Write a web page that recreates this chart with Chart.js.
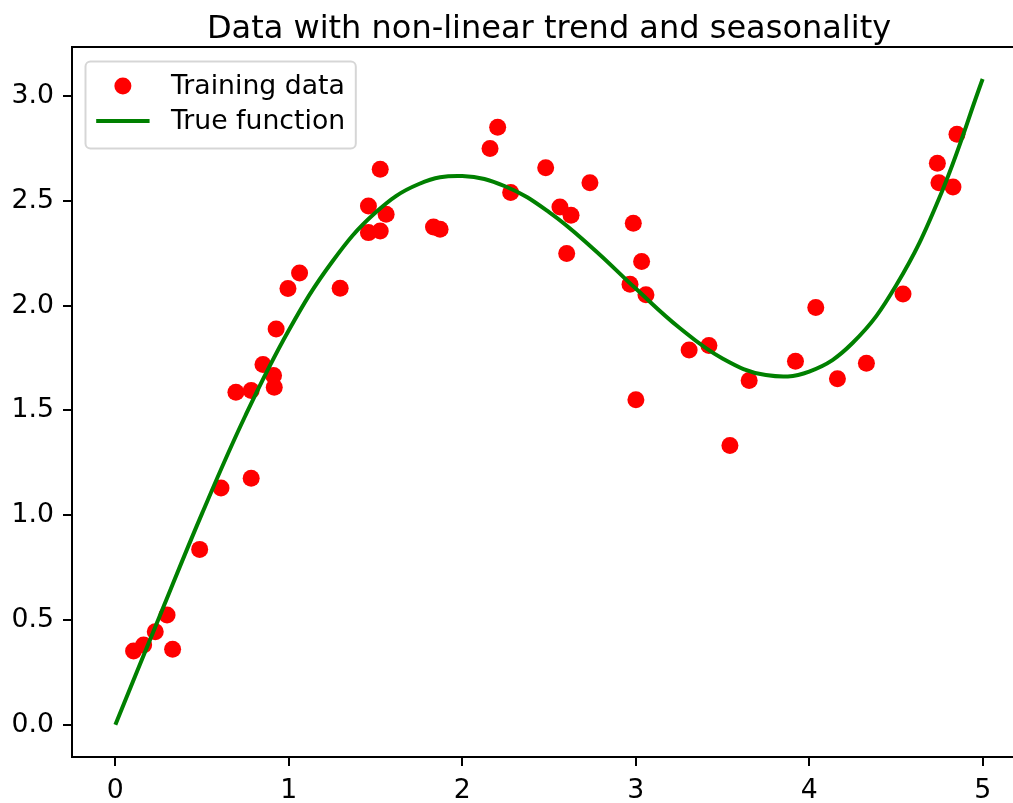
<!DOCTYPE html>
<html>
<head>
<script src="https://cdn.jsdelivr.net/npm/chart.js@4.4.0/dist/chart.umd.min.js"></script>
<style>
  html, body { margin: 0; padding: 0; overflow: hidden; background: #fff; }
</style>
</head>
<body>
<canvas id="trendChart" width="1098" height="803"></canvas>
<script>
// training points
const trainX = [0.105, 0.163, 0.230, 0.298, 0.330, 0.486, 0.609, 0.695, 0.783, 0.783,
                0.851, 0.912, 0.916, 0.927, 0.995, 1.062, 1.296, 1.459, 1.459, 1.527,
                1.527, 1.561, 1.834, 1.872, 2.160, 2.204, 2.279, 2.481, 2.563, 2.602,
                2.627, 2.736, 2.967, 2.986, 3.001, 3.034, 3.059, 3.308, 3.422, 3.543,
                3.654, 3.921, 4.038, 4.163, 4.330, 4.541, 4.739, 4.748, 4.829, 4.852];
const trainY = [0.352, 0.381, 0.444, 0.524, 0.360, 0.837, 1.130, 1.587, 1.595, 1.176,
                1.719, 1.667, 1.611, 1.889, 2.082, 2.156, 2.084, 2.476, 2.349, 2.651,
                2.357, 2.437, 2.376, 2.365, 2.751, 2.852, 2.540, 2.659, 2.471, 2.249,
                2.432, 2.587, 2.103, 2.394, 1.551, 2.211, 2.052, 1.789, 1.810, 1.333,
                1.643, 1.735, 1.992, 1.651, 1.725, 2.056, 2.680, 2.587, 2.567, 2.818];

// green curve, sampled along its path
const curveX = [0, 0.25, 0.5, 0.75, 1, 1.25, 1.5, 1.75, 2, 2.25, 2.5,
                2.75, 3, 3.25, 3.5, 3.75, 4, 4.25, 4.5, 4.75, 5];
const curveY = [0, 0.507, 1.009, 1.476, 1.883, 2.210, 2.445, 2.581, 2.619, 2.569, 2.447,
                2.276, 2.082, 1.896, 1.748, 1.669, 1.686, 1.822, 2.095, 2.514, 3.082];

const titleText = 'Data with non-linear trend and seasonality';
const legendOrder = ['Training data', 'True function'];

const FS = 26.7;
Chart.defaults.font.family = '"DejaVu Sans", sans-serif';
Chart.defaults.color = '#000';

// matplotlib-like frame + legend inside the axes
const framePlugin = {
    id: 'frame',
    afterDraw(chart) {
        const ctx = chart.ctx;
        const ca = chart.chartArea;
        ctx.save();
        ctx.strokeStyle = '#000';
        ctx.lineWidth = 2;
        ctx.strokeRect(ca.left, ca.top, ca.right - ca.left, ca.bottom - ca.top);

        // legend
        ctx.font = FS + 'px "DejaVu Sans"';
        const pad = 0.4 * FS, handleLen = 2 * FS, textPad = 0.8 * FS;
        const boxX = ca.left + 13.5, boxY = ca.top + 14.5;
        let textW = 0;
        legendOrder.forEach(l => { textW = Math.max(textW, ctx.measureText(l).width); });
        const boxW = pad + handleLen + textPad + textW + pad;
        const boxH = 87;
        ctx.beginPath();
        ctx.roundRect(boxX, boxY, boxW, boxH, 5);
        ctx.fillStyle = 'rgba(255,255,255,0.8)';
        ctx.fill();
        ctx.strokeStyle = 'rgba(204,204,204,0.8)';
        ctx.lineWidth = 2;
        ctx.stroke();

        ctx.textBaseline = 'middle';
        ctx.textAlign = 'left';
        legendOrder.forEach((label, i) => {
            const ds = chart.data.datasets.find(d => d.label === label);
            const cy = boxY + 24.5 + i * 35;
            const hx = boxX + pad;
            if (ds.showLine) {
                ctx.strokeStyle = ds.borderColor;
                ctx.lineWidth = ds.borderWidth;
                ctx.beginPath();
                ctx.moveTo(hx, cy);
                ctx.lineTo(hx + handleLen, cy);
                ctx.stroke();
            } else {
                ctx.fillStyle = ds.backgroundColor;
                ctx.beginPath();
                ctx.arc(hx + handleLen / 2, cy, ds.pointRadius, 0, Math.PI * 2);
                ctx.fill();
            }
            ctx.fillStyle = '#000';
            ctx.fillText(label, hx + handleLen + textPad, cy + 1);
        });
        ctx.restore();
    }
};

const tickGrid = {
    display: true,
    drawOnChartArea: false,
    drawTicks: true,
    tickLength: 9,
    tickColor: '#000',
    lineWidth: 2
};

new Chart(document.getElementById('trendChart'), {
    type: 'scatter',
    data: {
        datasets: [
            {
                label: 'True function',
                data: curveX.map((x, i) => ({ x: x, y: curveY[i] })),
                showLine: true,
                borderColor: '#008000',
                borderWidth: 4,
                pointRadius: 0,
                tension: 0.4,
                order: 1
            },
            {
                label: 'Training data',
                data: trainX.map((x, i) => ({ x: x, y: trainY[i] })),
                backgroundColor: '#ff0000',
                borderWidth: 0,
                pointRadius: 8.5,
                order: 2
            }
        ]
    },
    options: {
        responsive: false,
        animation: false,
        layout: { padding: 0 },
        plugins: {
            legend: { display: false },
            tooltip: { enabled: false },
            title: {
                display: true,
                text: titleText,
                color: '#000',
                font: { size: 32, weight: 'normal', lineHeight: 1.1 },
                padding: { top: 11.8, bottom: 0 }
            }
        },
        scales: {
            x: {
                type: 'linear',
                min: -0.25,
                max: 5.25,
                grid: tickGrid,
                border: { display: false },
                ticks: {
                    stepSize: 1,
                    includeBounds: false,
                    padding: 9,
                    font: { size: FS },
                    maxRotation: 0
                },
                afterFit: s => { s.height = 46; }
            },
            y: {
                type: 'linear',
                min: -0.154,
                max: 3.235,
                grid: tickGrid,
                border: { display: false },
                ticks: {
                    stepSize: 0.5,
                    includeBounds: false,
                    padding: 9,
                    font: { size: FS },
                    callback: v => v.toFixed(1)
                },
                afterFit: s => { s.width = 72; }
            },
            yRight: {
                type: 'linear',
                position: 'right',
                display: true,
                grid: { display: false },
                border: { display: false },
                ticks: { display: false },
                afterFit: s => { s.width = 72; }
            }
        }
    },
    plugins: [framePlugin]
});
</script>
</body>
</html>
